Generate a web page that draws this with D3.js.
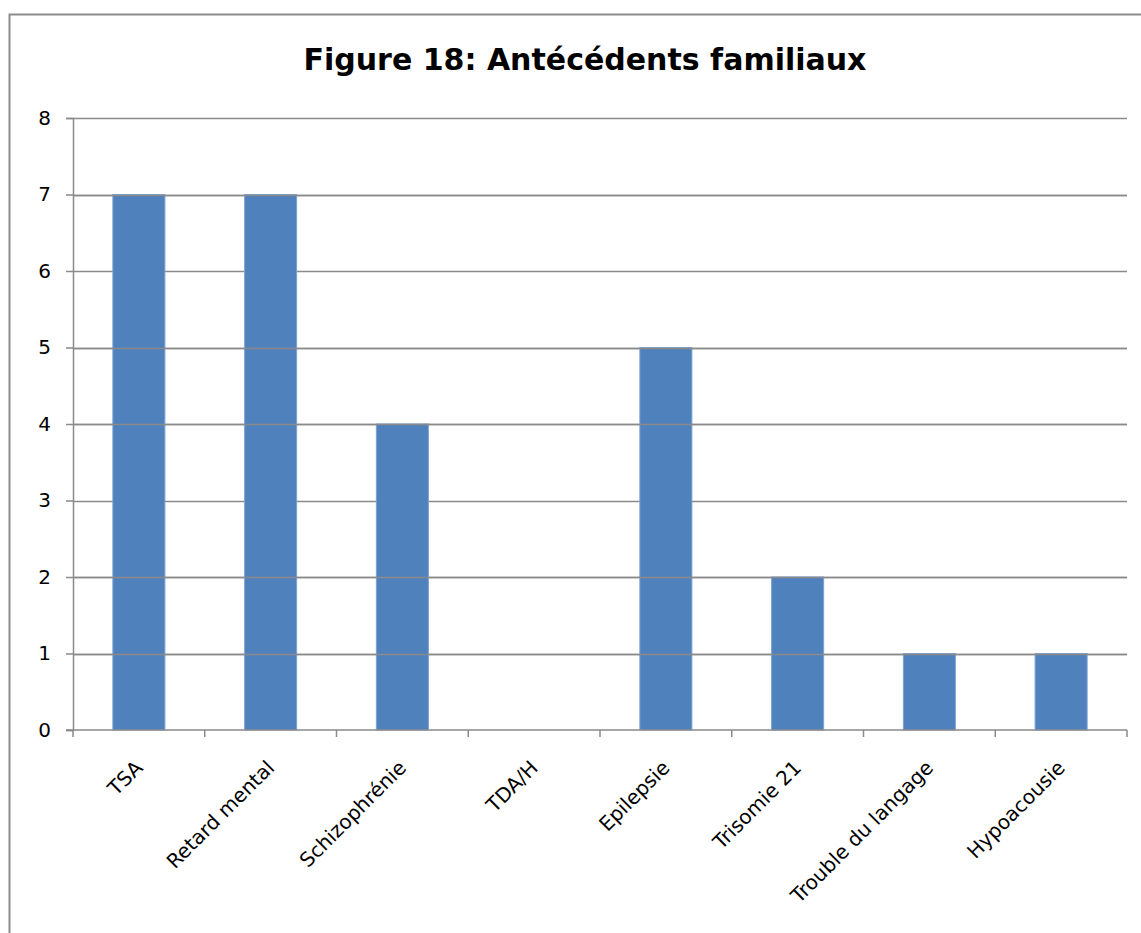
<!DOCTYPE html>
<html>
<head>
<meta charset="utf-8">
<script src="https://cdn.jsdelivr.net/npm/d3@7"></script>
<style>
  html, body { margin: 0; padding: 0; background: #fff; }
  svg { display: block; }
  text { font-family: "DejaVu Sans", "Noto Sans", sans-serif; fill: #000; }
</style>
</head>
<body>
<script>
// Family history counts per condition
const categories = ["TSA", "Retard mental", "Schizophrénie", "TDA/H", "Epilepsie", "Trisomie 21", "Trouble du langage", "Hypoacousie"];
const counts = [7, 7, 4, 0, 5, 2, 1, 1];
const yTicks = [0, 1, 2, 3, 4, 5, 6, 7, 8];
const title = "Figure 18: Antécédents familiaux";

const W = 1141, H = 933;
const plot = { left: 73, right: 1127, top: 118, bottom: 730 };

const svg = d3.select("body").append("svg")
  .attr("width", W).attr("height", H);

// outer chart frame
svg.append("rect")
  .attr("x", 9.5).attr("y", 14.5)
  .attr("width", W + 10).attr("height", H + 10)
  .attr("fill", "#fff").attr("stroke", "#8c8c8c").attr("stroke-width", 2);

svg.append("text")
  .attr("x", 585).attr("y", 70)
  .attr("text-anchor", "middle")
  .style("font-size", "30px")
  .style("font-weight", "bold")
  .text(title);

const x = d3.scaleBand()
  .domain(categories)
  .range([plot.left, plot.right])
  .paddingInner(0)
  .paddingOuter(0);

const y = d3.scaleLinear()
  .domain([0, 8])
  .range([plot.bottom, plot.top]);

const barW = x.bandwidth() * 0.395;

// horizontal gridlines
svg.append("g")
  .selectAll("line")
  .data(yTicks.filter(d => d > 0))
  .join("line")
  .attr("x1", plot.left).attr("x2", plot.right)
  .attr("y1", d => Math.round(y(d)) + 0.5).attr("y2", d => Math.round(y(d)) + 0.5)
  .attr("stroke", "#8a8a8a").attr("stroke-width", 1.5);

// bars
svg.append("g")
  .selectAll("rect")
  .data(categories.map((c, i) => ({ c, v: counts[i] })).filter(d => d.v > 0))
  .join("rect")
  .attr("x", d => x(d.c) + x.bandwidth() / 2 - barW / 2)
  .attr("y", d => y(d.v))
  .attr("width", barW)
  .attr("height", d => y(0) - y(d.v))
  .attr("fill", "#4f81bd")
  .attr("stroke", "#7da2d3").attr("stroke-width", 1);

// gridlines drawn again over the bar tops
svg.append("g")
  .selectAll("line")
  .data(yTicks.filter(d => d > 0 && counts.includes(d)))
  .join("line")
  .attr("x1", plot.left).attr("x2", plot.right)
  .attr("y1", d => Math.round(y(d)) + 0.5).attr("y2", d => Math.round(y(d)) + 0.5)
  .attr("stroke", "#8a8a8a").attr("stroke-width", 1.5);

// y axis
const yAxis = svg.append("g")
  .attr("transform", `translate(${plot.left},0)`)
  .call(d3.axisLeft(y).tickValues(yTicks).tickSize(7).tickPadding(15).tickFormat(d3.format("d")));
yAxis.select(".domain").attr("stroke", "#8a8a8a").attr("stroke-width", 1.5);
yAxis.selectAll(".tick line").attr("stroke", "#8a8a8a").attr("stroke-width", 1.5);
yAxis.selectAll(".tick text").style("font-size", "20px").attr("font-family", null);

// x axis with boundary ticks between categories
const xAxis = svg.append("g").attr("transform", `translate(0,${plot.bottom})`);
xAxis.append("line")
  .attr("x1", plot.left - 7).attr("x2", plot.right)
  .attr("y1", 0).attr("y2", 0)
  .attr("stroke", "#8a8a8a").attr("stroke-width", 1.5);
const bounds = categories.map(c => x(c)).concat([plot.right]);
xAxis.selectAll("line.b")
  .data(bounds)
  .join("line").attr("class", "b")
  .attr("x1", d => d).attr("x2", d => d)
  .attr("y1", 0).attr("y2", 7)
  .attr("stroke", "#8a8a8a").attr("stroke-width", 1.5);

xAxis.selectAll("text.lbl")
  .data(categories)
  .join("text").attr("class", "lbl")
  .attr("text-anchor", "end")
  .style("font-size", "20px")
  .attr("transform", d => `translate(${x(d) + x.bandwidth() / 2 + 5},${39}) rotate(-45)`)
  .text(d => d);
</script>
</body>
</html>
